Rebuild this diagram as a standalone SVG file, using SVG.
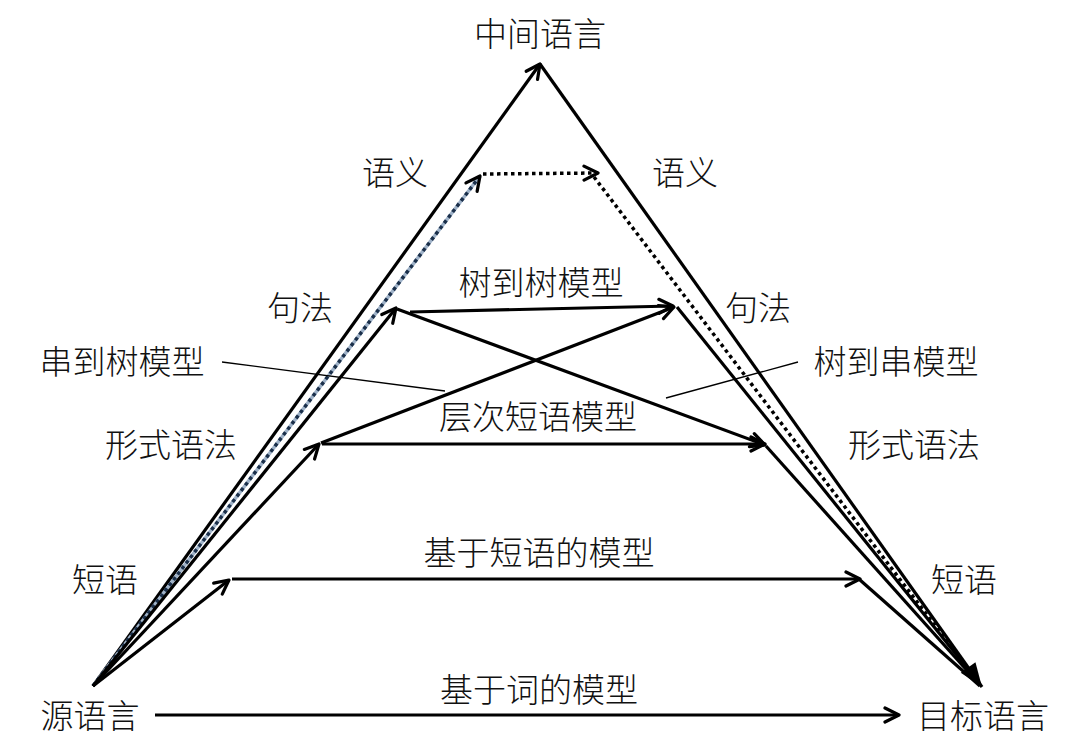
<svg xmlns="http://www.w3.org/2000/svg" width="1080" height="746" viewBox="0 0 1080 746">
<style>
text{font-family:"Noto Sans CJK SC","Noto Sans CJK JP",sans-serif;font-size:33px;font-weight:300;fill:#111;text-anchor:middle}
.l{stroke:#000;stroke-width:3.2;fill:none}
.a{marker-end:url(#arr)}
.d{stroke:#000;stroke-width:3.5;stroke-dasharray:3.5 3.5;fill:none}
.db{stroke:#1a2f4a;stroke-width:3.5;stroke-dasharray:3.5 3.5;fill:none}
.thin{stroke:#000;stroke-width:1.3;fill:none}
</style>
<defs>
<marker id="arr" markerUnits="userSpaceOnUse" viewBox="-18 -10 20 20" markerWidth="20" markerHeight="20" refX="0" refY="0" orient="auto">
<path d="M-14,-7 L0,0 L-14,7" fill="none" stroke="#000" stroke-width="3.2" stroke-linejoin="round" stroke-linecap="round"/>
</marker>
<marker id="big" markerUnits="userSpaceOnUse" viewBox="-26 -12 28 24" markerWidth="28" markerHeight="24" refX="0" refY="0" orient="auto">
<path d="M-24,-9 L0,0 L-24,9 z" fill="#000"/>
</marker>
</defs>
<rect width="1080" height="746" fill="#fff"/>
<g id="connectors">
<line class="l a" x1="93" y1="686" x2="540" y2="64"/>
<line class="l" x1="540" y1="64" x2="982" y2="687" marker-end="url(#big)"/>
<line x1="93" y1="686" x2="480" y2="176" stroke="#9fb2c8" stroke-width="3.5"/>
<line class="db a" x1="93" y1="686" x2="480" y2="176"/>
<line class="d a" x1="483" y1="174" x2="598" y2="173"/>
<line class="d" x1="594" y1="177" x2="978" y2="682"/>
<line class="l a" x1="93" y1="686" x2="396" y2="308"/>
<line class="l a" x1="410" y1="312" x2="673" y2="306"/>
<line class="l a" x1="397" y1="309" x2="765" y2="445"/>
<line class="l a" x1="321" y1="443" x2="674" y2="307"/>
<line class="l" x1="677" y1="307" x2="980" y2="684"/>
<line class="l a" x1="93" y1="686" x2="319" y2="444"/>
<line class="l a" x1="322" y1="444" x2="765" y2="444"/>
<line class="l" x1="766" y1="446" x2="980" y2="685"/>
<line class="l a" x1="93" y1="686" x2="229" y2="580"/>
<line class="l a" x1="232" y1="579" x2="860" y2="579"/>
<line class="l" x1="860" y1="580" x2="980" y2="686"/>
<line class="l a" x1="155" y1="715" x2="899" y2="715"/>
<line class="thin" x1="222" y1="362" x2="445" y2="391"/>
<line class="thin" x1="798" y1="362" x2="666" y2="398"/>
</g>
<g id="n-inter"><text x="540" y="46">中间语言</text></g>
<g id="n-src"><text x="90" y="728">源语言</text></g>
<g id="n-tgt"><text x="983" y="728">目标语言</text></g>
<g id="n-sem-l"><text x="395" y="185">语义</text></g>
<g id="n-sem-r"><text x="685" y="185">语义</text></g>
<g id="n-syn-l"><text x="300" y="320">句法</text></g>
<g id="n-syn-r"><text x="758" y="320">句法</text></g>
<g id="n-t2t"><text x="541" y="295">树到树模型</text></g>
<g id="n-s2t"><text x="122" y="374">串到树模型</text></g>
<g id="n-t2s"><text x="896" y="374">树到串模型</text></g>
<g id="n-hier"><text x="538" y="429">层次短语模型</text></g>
<g id="n-fg-l"><text x="171" y="457">形式语法</text></g>
<g id="n-fg-r"><text x="914" y="457">形式语法</text></g>
<g id="n-ph-l"><text x="105" y="592">短语</text></g>
<g id="n-ph-r"><text x="964" y="592">短语</text></g>
<g id="n-pbm"><text x="539" y="565">基于短语的模型</text></g>
<g id="n-wbm"><text x="539" y="702">基于词的模型</text></g>
</svg>
